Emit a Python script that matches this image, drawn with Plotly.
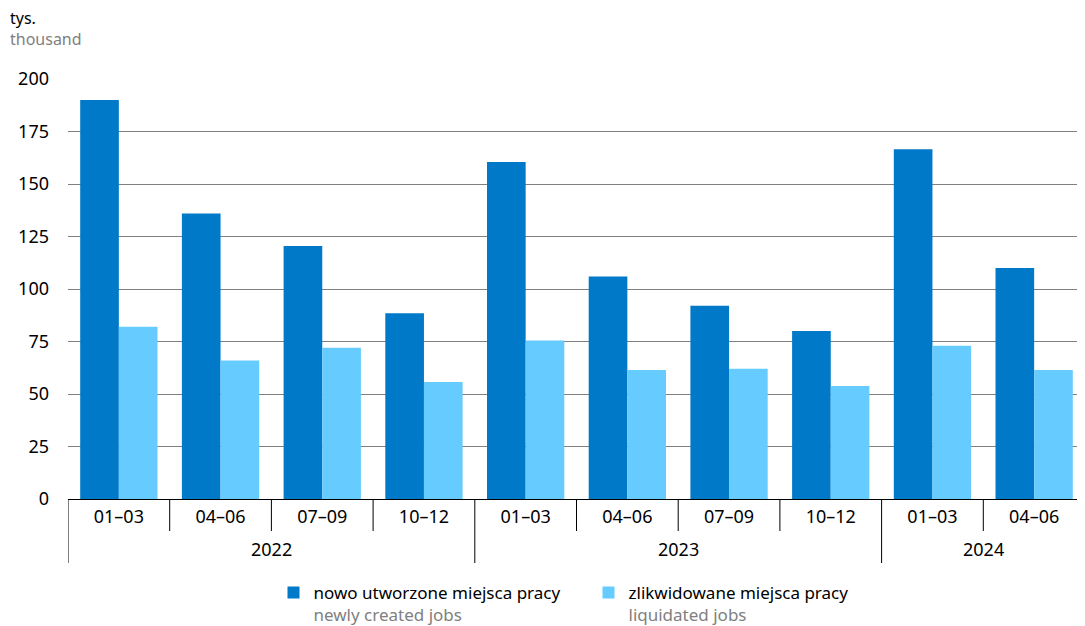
import plotly.graph_objects as go

years = ["2022"] * 4 + ["2023"] * 4 + ["2024"] * 2
quarters = ["01–03", "04–06", "07–09", "10–12", "01–03", "04–06", "07–09", "10–12", "01–03", "04–06"]
created = [190, 136, 120.5, 88.5, 160.5, 106, 92, 80, 166.5, 110]
liquidated = [82, 66, 72, 55.7, 75.5, 61.4, 62, 53.8, 73, 61.4]
y_ticks = [0, 25, 50, 75, 100, 125, 150, 175, 200]

FONT = "Noto Sans"
DARK = "#0079C8"
LIGHT = "#66CCFF"
GREY = "#808080"

idx = list(range(len(quarters)))
# the page body has an 8px margin, so the figure sits 8px right and down
OFF = 8
FIG_W, FIG_H = 1085, 660
ML, MR, MT = 68 - OFF, OFF, 79 - OFF
MB = FIG_H + OFF - 499
PLOT_H = FIG_H - MT - MB
PLOT_W = FIG_W - ML - MR

fig = go.Figure()
fig.add_trace(go.Bar(
    x=idx, y=created,
    name="nowo utworzone miejsca pracy<br><span style='color:#808080'>newly created jobs</span>",
    marker=dict(color=DARK, line=dict(width=0)),
))
fig.add_trace(go.Bar(
    x=idx, y=liquidated,
    name="zlikwidowane miejsca pracy<br><span style='color:#808080'>liquidated jobs</span>",
    marker=dict(color=LIGHT, line=dict(width=0)),
))

shapes = []
annotations = []
for i in range(len(quarters)):
    xb = i - 0.5
    is_year_edge = i == 0 or years[i] != years[i - 1]
    depth = 64 if is_year_edge else 32
    shapes.append(dict(type="line", xref="x", yref="paper", x0=xb, x1=xb,
                       y0=0, y1=-depth / PLOT_H, line=dict(color="black", width=1)))
seen = []
for y in years:
    if y not in seen:
        seen.append(y)
for y in seen:
    pos = [i for i, v in enumerate(years) if v == y]
    annotations.append(dict(text=y, xref="x", yref="paper", x=sum(pos) / len(pos),
                            y=-50 / PLOT_H, yanchor="middle", showarrow=False,
                            font=dict(size=18, color="black")))

annotations += [
    dict(text="tys.", xref="paper", yref="paper", x=-ML / PLOT_W, y=(499 - 18) / PLOT_H,
         xanchor="left", yanchor="middle", showarrow=False, xshift=0,
         font=dict(size=16, color="black")),
    dict(text="thousand", xref="paper", yref="paper", x=-ML / PLOT_W, y=(499 - 39) / PLOT_H,
         xanchor="left", yanchor="middle", showarrow=False, xshift=0,
         font=dict(size=16, color=GREY)),
]

fig.update_layout(
    width=FIG_W, height=FIG_H,
    margin=dict(l=ML, r=MR, t=MT, b=MB),
    paper_bgcolor="white", plot_bgcolor="white",
    font=dict(family=FONT, size=17, color="black"),
    barmode="group", bargap=0.24, bargroupgap=0,
    showlegend=True,
    legend=dict(orientation="h", x=0.5 + 12 / PLOT_W, xanchor="center", y=-76 / PLOT_H,
                yanchor="top", font=dict(size=17), valign="top", itemwidth=30,
                entrywidth=270, tracegroupgap=0),
    xaxis=dict(range=[-0.5, len(quarters) - 0.5], tickvals=idx, ticktext=quarters,
               showline=True, linecolor="black", linewidth=1, ticks="",
               tickfont=dict(size=18), showgrid=False, zeroline=False,
               ticklabelstandoff=1, automargin=False, fixedrange=True),
    yaxis=dict(range=[0, 200], tickvals=y_ticks, showgrid=True, gridcolor=GREY, gridwidth=1,
               zeroline=True, zerolinecolor="black", zerolinewidth=1,
               ticks="", tickfont=dict(size=18), ticklabelstandoff=18,
               automargin=False, fixedrange=True),
    shapes=shapes,
    annotations=annotations,
)

fig.write_html("out.html")
